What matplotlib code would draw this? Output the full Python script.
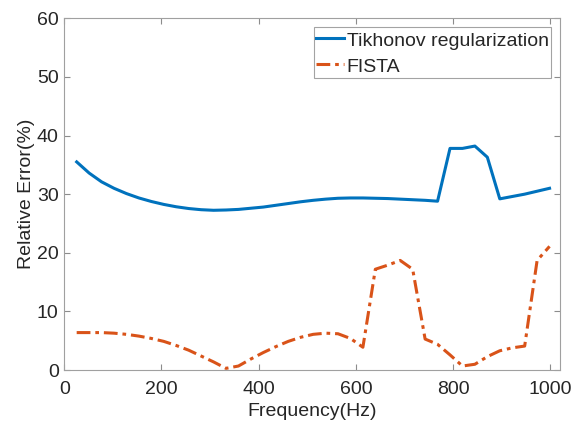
import numpy as np
import matplotlib
matplotlib.use("Agg")
import matplotlib.pyplot as plt

plt.rcParams['font.family'] = ['Liberation Sans', 'DejaVu Sans']

freq = [25.6 * k for k in range(1, 40)]
tikhonov = [35.5, 33.6, 32.1, 31.0, 30.1, 29.35, 28.75, 28.25, 27.85, 27.55,
            27.35, 27.25, 27.3, 27.4, 27.6, 27.8, 28.1, 28.4, 28.7, 28.95,
            29.15, 29.3, 29.35, 29.35, 29.3, 29.25, 29.15, 29.05, 28.95, 28.8,
            37.8, 37.8, 38.2, 36.3, 29.2, 29.6, 30.0, 30.5, 31.0]
fista = [6.4, 6.4, 6.4, 6.3, 6.1, 5.8, 5.4, 4.9, 4.2, 3.4,
         2.4, 1.4, 0.3, 0.7, 1.9, 3.0, 4.0, 4.9, 5.6, 6.1,
         6.3, 6.2, 5.4, 3.9, 17.2, 17.9, 18.7, 17.2, 5.3, 4.4,
         2.6, 0.7, 1.0, 2.3, 3.3, 3.8, 4.1, 18.7, 21.1]
labels = ['Tikhonov regularization', 'FISTA']
xticks = [0, 200, 400, 600, 800, 1000]
yticks = [0, 10, 20, 30, 40, 50, 60]

fig = plt.figure(figsize=(5.84, 4.23), dpi=100)
ax = fig.add_axes([0.110, 0.125, 0.849, 0.832])

ax.plot(freq, tikhonov, color='#0072BD', lw=2.2, label=labels[0])
ax.plot(freq, fista, color='#D95319', lw=2.2, ls=(0, (4.5, 1.6, 1.2, 1.6)), label=labels[1])

ax.set_xlim(0, 1020)
ax.set_ylim(0, 60)
ax.set_xticks(xticks)
ax.set_yticks(yticks)
txtc = '#262626'
fs = 14
ax.tick_params(direction='in', top=True, right=True, labelsize=fs,
               colors='#8c8c8c', labelcolor=txtc, length=4, width=0.8, pad=4)
ax.tick_params(axis='x', pad=7.5)
for s in ax.spines.values():
    s.set_color('#a0a0a0')
    s.set_linewidth(0.8)
ax.set_xlabel('Frequency(Hz)', fontsize=fs, color=txtc, labelpad=4)
ax.set_ylabel('Relative Error(%)', fontsize=fs, color=txtc, labelpad=1)

leg = ax.legend(loc='upper right', fontsize=fs, frameon=True, fancybox=False,
                borderpad=0.13, handlelength=1.45, handleheight=1.25,
                handletextpad=0.12, labelspacing=0.25, borderaxespad=0.45)
leg.get_frame().set_edgecolor('#8c8c8c')
leg.get_frame().set_linewidth(0.8)
for t in leg.get_texts():
    t.set_color(txtc)

fig.savefig('out.png', dpi=100)
